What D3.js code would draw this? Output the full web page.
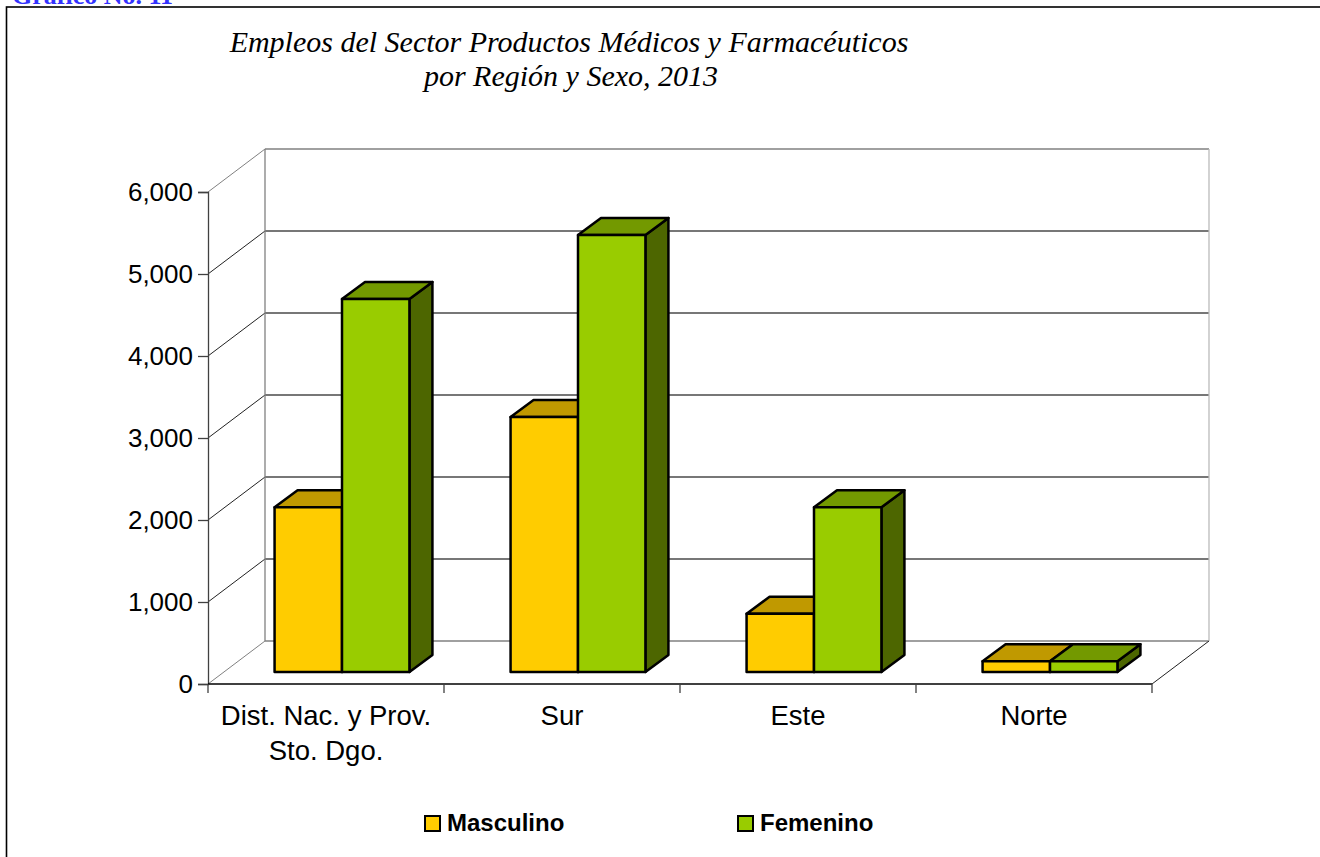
<!DOCTYPE html>
<html>
<head>
<meta charset="utf-8">
<script src="https://cdnjs.cloudflare.com/ajax/libs/d3/7.8.5/d3.min.js"></script>
<style>
  body { margin: 0; background: #fff; }
  svg { display: block; }
</style>
</head>
<body>
<svg id="chart" width="1320" height="857"></svg>
<script>
// data
var regions = ["Dist. Nac. y Prov.\nSto. Dgo.", "Sur", "Este", "Norte"];
var series = ["Masculino", "Femenino"];
var masculino = [2010, 3110, 710, 130];
var femenino = [4550, 5330, 2010, 130];
var yTicks = [0, 1000, 2000, 3000, 4000, 5000, 6000];

// colours: front, top, side
var colours = {
    "Masculino": {front: "#ffcc00", top: "#c09900", side: "#806600"},
    "Femenino": {front: "#99cc00", top: "#739900", side: "#4d6600"}
};

var svg = d3.select("#chart");

// outer frame (runs off the page on the right and bottom)
svg.append("rect")
    .attr("x", 6.5).attr("y", 7)
    .attr("width", 1340).attr("height", 900)
    .attr("fill", "none")
    .attr("stroke", "black")
    .attr("stroke-width", 1.6);

// caption cut off at the top
svg.append("text")
    .attr("x", 12).attr("y", 4)
    .attr("font-family", "Liberation Serif, Times New Roman, serif")
    .attr("font-weight", "bold")
    .attr("font-size", "26px")
    .attr("fill", "#3333ff")
    .text("Gráfico No. 11");

// title
var title = svg.append("text")
    .attr("text-anchor", "middle")
    .attr("font-family", "Liberation Serif, Times New Roman, serif")
    .attr("font-style", "italic")
    .attr("font-size", "30px");
title.append("tspan").attr("x", 569).attr("y", 52)
    .text("Empleos del Sector Productos Médicos y Farmacéuticos");
title.append("tspan").attr("x", 571).attr("y", 86)
    .text("por Región y Sexo, 2013");

// scales
var x = d3.scaleBand().domain(regions).range([208, 1152]);
var xs = d3.scaleBand().domain(series).range([0, x.bandwidth()]).paddingOuter(0.75);
var y = d3.scaleLinear().domain([0, 6000]).range([684, 192]);

// depth of the box and of the bars
var depthX = 57, depthY = -43;
var barOffX = 16, barOffY = -12;
var barDX = 23, barDY = -17;

var walls = svg.append("g");

// back wall and grid lines
yTicks.forEach(function(t) {
    walls.append("line")
        .attr("x1", 208 + depthX).attr("x2", 1152 + depthX)
        .attr("y1", y(t) + depthY).attr("y2", y(t) + depthY)
        .attr("stroke", t == 0 || t == 6000 ? "#808080" : "#4a4a4a")
        .attr("stroke-width", 1.3);
    walls.append("line")
        .attr("x1", 208).attr("x2", 208 + depthX)
        .attr("y1", y(t)).attr("y2", y(t) + depthY)
        .attr("stroke", t == 6000 || t == 0 ? "#808080" : "#222")
        .attr("stroke-width", 1);
});
walls.append("line")
    .attr("x1", 208 + depthX).attr("x2", 208 + depthX)
    .attr("y1", y(0) + depthY).attr("y2", y(6000) + depthY)
    .attr("stroke", "#808080").attr("stroke-width", 1.3);
walls.append("line")
    .attr("x1", 1152 + depthX).attr("x2", 1152 + depthX)
    .attr("y1", y(0) + depthY).attr("y2", y(6000) + depthY)
    .attr("stroke", "#bbbbbb").attr("stroke-width", 1.3);
// floor right edge
walls.append("line")
    .attr("x1", 1152).attr("x2", 1152 + depthX)
    .attr("y1", y(0)).attr("y2", y(0) + depthY)
    .attr("stroke", "#222").attr("stroke-width", 1);

// y axis
var yAxis = svg.append("g")
    .attr("transform", "translate(208,0)")
    .call(d3.axisLeft(y).tickValues(yTicks).tickFormat(d3.format(",")).tickSize(10).tickPadding(5));
yAxis.select(".domain").attr("stroke", "#404040").attr("stroke-width", 1.3);
yAxis.selectAll(".tick line").attr("stroke", "#404040").attr("stroke-width", 1.3);
yAxis.selectAll("text")
    .attr("font-family", "Liberation Sans, Arial, sans-serif")
    .attr("font-size", "26px")
    .attr("fill", "black");

// x axis: ticks between categories
var xAxis = svg.append("g")
    .attr("transform", "translate(0," + y(0) + ")");
xAxis.append("line")
    .attr("x1", 208).attr("x2", 1152)
    .attr("stroke", "black").attr("stroke-width", 1.5);
var bounds = regions.map(function(r) { return x(r); }).concat([1152]);
xAxis.selectAll(".xtick").data(bounds).enter().append("line")
    .attr("x1", function(d) { return d; }).attr("x2", function(d) { return d; })
    .attr("y1", 0).attr("y2", 9)
    .attr("stroke", "#404040").attr("stroke-width", 1.3);
var labels = xAxis.selectAll(".xlabel").data(regions).enter().append("text")
    .attr("text-anchor", "middle")
    .attr("font-family", "Liberation Sans, Arial, sans-serif")
    .attr("font-size", "27.5px");
labels.each(function(d) {
    var t = d3.select(this);
    d.split("\n").forEach(function(line, i) {
        t.append("tspan")
            .attr("x", x(d) + x.bandwidth() / 2)
            .attr("y", 41 + i * 35)
            .text(line);
    });
});

// bars
var bars = [];
regions.forEach(function(r, i) {
    bars.push({region: r, serie: "Masculino", value: masculino[i]});
    bars.push({region: r, serie: "Femenino", value: femenino[i]});
});

function pts(p) {
    return p.map(function(d) { return d.join(","); }).join(" ");
}

var barG = svg.append("g")
    .attr("stroke", "black")
    .attr("stroke-width", 2.5)
    .attr("stroke-linejoin", "round");

bars.forEach(function(b) {
    var x0 = x(b.region) + xs(b.serie) + barOffX;
    var x1 = x0 + xs.bandwidth();
    var yb = y(0) + barOffY;
    var yt = y(b.value) + barOffY;
    var g = barG.append("g");
    g.append("polygon")
        .attr("points", pts([[x1, yb], [x1 + barDX, yb + barDY], [x1 + barDX, yt + barDY], [x1, yt]]))
        .attr("fill", colours[b.serie].side);
    g.append("polygon")
        .attr("points", pts([[x0, yt], [x0 + barDX, yt + barDY], [x1 + barDX, yt + barDY], [x1, yt]]))
        .attr("fill", colours[b.serie].top);
    g.append("rect")
        .attr("x", x0).attr("y", yt)
        .attr("width", x1 - x0).attr("height", yb - yt)
        .attr("fill", colours[b.serie].front);
});

// legend
var legendX = [424, 737];
var legend = svg.selectAll(".legend").data(series).enter().append("g")
    .attr("transform", function(d, i) { return "translate(" + legendX[i] + ",815)"; });
legend.append("rect")
    .attr("x", 1).attr("y", 1)
    .attr("width", 15).attr("height", 15)
    .attr("fill", function(d) { return colours[d].front; })
    .attr("stroke", "black").attr("stroke-width", 2);
legend.append("text")
    .attr("x", 23).attr("y", 16)
    .attr("font-family", "Liberation Sans, Arial, sans-serif")
    .attr("font-weight", "bold")
    .attr("font-size", "24px")
    .text(function(d) { return d; });
</script>
</body>
</html>
